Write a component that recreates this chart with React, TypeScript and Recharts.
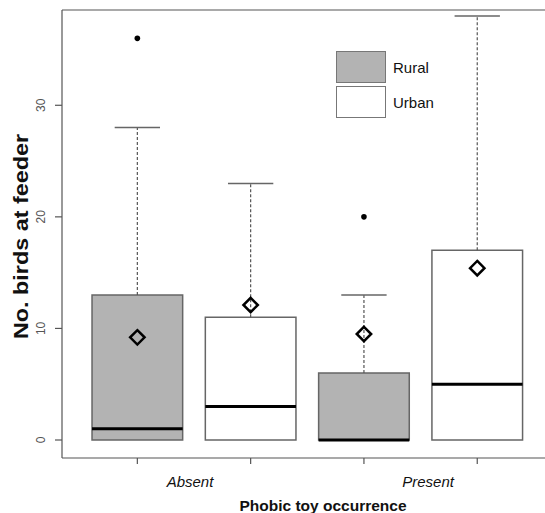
import React from 'react';
import {
  ComposedChart,
  XAxis,
  YAxis,
  ReferenceArea,
  ReferenceLine,
  Scatter,
  Legend,
} from 'recharts';

// ---- data ----
const positions = [1, 2, 3, 4];
const groups = ['Rural', 'Urban', 'Rural', 'Urban'];
const lowerQuartile = [0, 0, 0, 0];
const medians = [1, 3, 0, 5];
const upperQuartile = [13, 11, 6, 17];
const lowerWhisker = [0, 0, 0, 0];
const upperWhisker = [28, 23, 13, 38];
const means = [9.2, 12.1, 9.5, 15.4];
const outlierPositions = [1, 3];
const outlierValues = [36, 20];
const occurrenceLabels = ['Absent', 'Present'];
const occurrenceLabelPositions = [1.465, 3.566];
const yTicks = [0, 10, 20, 30];
const legendNames = ['Rural', 'Urban'];

const FONT = '"Liberation Sans", Arial, Helvetica, sans-serif';
const FILLS: Record<string, string> = { Rural: '#b3b3b3', Urban: '#ffffff' };
const X_DOMAIN: [number, number] = [0.335, 4.598];
const Y_DOMAIN: [number, number] = [-1.613, 38.54];
const BOX_HALF = 0.4;
const CAP_HALF = 0.2;

const xTicks = [...positions, ...occurrenceLabelPositions].sort((a, b) => a - b);
const meanData = positions.map((p, i) => ({ x: p, y: means[i] }));
const outlierData = outlierPositions.map((p, i) => ({ x: p, y: outlierValues[i] }));

const Diamond = (props: any) => {
  const { cx, cy } = props;
  if (cx == null || cy == null) return <g />;
  const r = 7.2;
  return (
    <path
      d={`M${cx},${cy - r} L${cx + r},${cy} L${cx},${cy + r} L${cx - r},${cy} Z`}
      fill="none"
      stroke="#000"
      strokeWidth={2.5}
    />
  );
};

const Dot = (props: any) => {
  const { cx, cy } = props;
  if (cx == null || cy == null) return <g />;
  return <circle cx={cx} cy={cy} r={2.8} fill="#000" />;
};

const YTick = (props: any) => {
  const { x, y, payload } = props;
  return (
    <text
      x={x}
      y={y}
      transform={`rotate(-90 ${x} ${y})`}
      textAnchor="middle"
      fill="#555"
      fontSize={12}
      fontFamily={FONT}
    >
      {payload.value}
    </text>
  );
};

const XTick = (props: any) => {
  const { x, y, payload } = props;
  const v = Number(payload.value);
  const gi = occurrenceLabelPositions.findIndex((p) => Math.abs(p - v) < 1e-6);
  if (gi >= 0) {
    return (
      <text
        x={x}
        y={y + 28.5}
        textAnchor="middle"
        fill="#111"
        fontSize={15}
        fontStyle="italic"
        fontFamily={FONT}
      >
        {occurrenceLabels[gi]}
      </text>
    );
  }
  return <line x1={x} x2={x} y1={y} y2={y + 6} stroke="#555" strokeWidth={1.2} />;
};

const LegendContent = () => (
  <div style={{ display: 'flex', flexDirection: 'column', gap: 3, fontFamily: FONT }}>
    {legendNames.map((n) => (
      <div key={n} style={{ display: 'flex', alignItems: 'center' }}>
        <div
          style={{
            width: 50,
            height: 32,
            boxSizing: 'border-box',
            border: '1.5px solid #777',
            background: FILLS[n],
          }}
        />
        <span style={{ marginLeft: 7, fontSize: 15, color: '#111' }}>{n}</span>
      </div>
    ))}
  </div>
);

export default function App() {
  return (
    <div style={{ position: 'absolute', left: 0, top: 0, background: '#fff' }}>
      <ComposedChart
        width={545}
        height={513}
        margin={{ top: 10, right: 0, bottom: 0, left: 0 }}
      >
        <XAxis
          dataKey="x"
          type="number"
          domain={X_DOMAIN}
          allowDataOverflow
          ticks={xTicks}
          interval={0}
          tick={<XTick />}
          tickSize={0}
          tickMargin={0}
          tickLine={false}
          height={55}
          axisLine={{ stroke: '#555', strokeWidth: 1.2 }}
          label={{
            content: () => (
              <text
                x={323}
                y={510.5}
                textAnchor="middle"
                fontSize={15.5}
                fontWeight="bold"
                fill="#111"
                fontFamily={FONT}
              >
                Phobic toy occurrence
              </text>
            ),
          }}
        />
        <YAxis
          dataKey="y"
          type="number"
          domain={Y_DOMAIN}
          allowDataOverflow
          ticks={yTicks}
          interval={0}
          width={62}
          tickSize={7}
          tickMargin={10}
          tick={<YTick />}
          axisLine={{ stroke: '#555', strokeWidth: 1.2 }}
          tickLine={{ stroke: '#555', strokeWidth: 1.2 }}
          label={{
            content: () => (
              <text
                x={28}
                y={236.5}
                transform="rotate(-90 28 236.5)"
                textAnchor="middle"
                fontSize={20}
                fontWeight="bold"
                fill="#111"
                fontFamily={FONT}
                textLength={205}
                lengthAdjust="spacingAndGlyphs"
              >
                No. birds at feeder
              </text>
            ),
          }}
        />

        <ReferenceLine y={Y_DOMAIN[1]} stroke="#555" strokeWidth={1.2} ifOverflow="visible" />

        {positions.map((p, i) => (
          <ReferenceLine
            key={`wu${i}`}
            segment={[
              { x: p, y: upperQuartile[i] },
              { x: p, y: upperWhisker[i] },
            ]}
            stroke="#555"
            strokeDasharray="3 2"
            strokeWidth={1.2}
          />
        ))}
        {positions.map((p, i) =>
          lowerWhisker[i] < lowerQuartile[i] ? (
            <ReferenceLine
              key={`wl${i}`}
              segment={[
                { x: p, y: lowerWhisker[i] },
                { x: p, y: lowerQuartile[i] },
              ]}
              stroke="#555"
              strokeDasharray="3 2"
              strokeWidth={1.2}
            />
          ) : null
        )}
        {positions.map((p, i) => (
          <ReferenceLine
            key={`cap${i}`}
            segment={[
              { x: p - CAP_HALF, y: upperWhisker[i] },
              { x: p + CAP_HALF, y: upperWhisker[i] },
            ]}
            stroke="#666"
            strokeWidth={1.5}
            ifOverflow="visible"
          />
        ))}
        {positions.map((p, i) => (
          <ReferenceArea
            key={`box${i}`}
            x1={p - BOX_HALF}
            x2={p + BOX_HALF}
            y1={lowerQuartile[i]}
            y2={upperQuartile[i]}
            fill={FILLS[groups[i]]}
            fillOpacity={1}
            stroke="#666"
            strokeWidth={1.5}
          />
        ))}
        {positions.map((p, i) => (
          <ReferenceLine
            key={`med${i}`}
            segment={[
              { x: p - BOX_HALF, y: medians[i] },
              { x: p + BOX_HALF, y: medians[i] },
            ]}
            stroke="#000"
            strokeWidth={3}
          />
        ))}

        <Scatter data={meanData} shape={<Diamond />} isAnimationActive={false} />
        <Scatter data={outlierData} shape={<Dot />} isAnimationActive={false} />

        <Legend
          layout="horizontal"
          verticalAlign="middle"
          align="center"
          content={<LegendContent />}
          wrapperStyle={{ position: 'absolute', left: 336, top: 51, width: 'auto', height: 'auto' }}
        />
      </ComposedChart>
    </div>
  );
}
